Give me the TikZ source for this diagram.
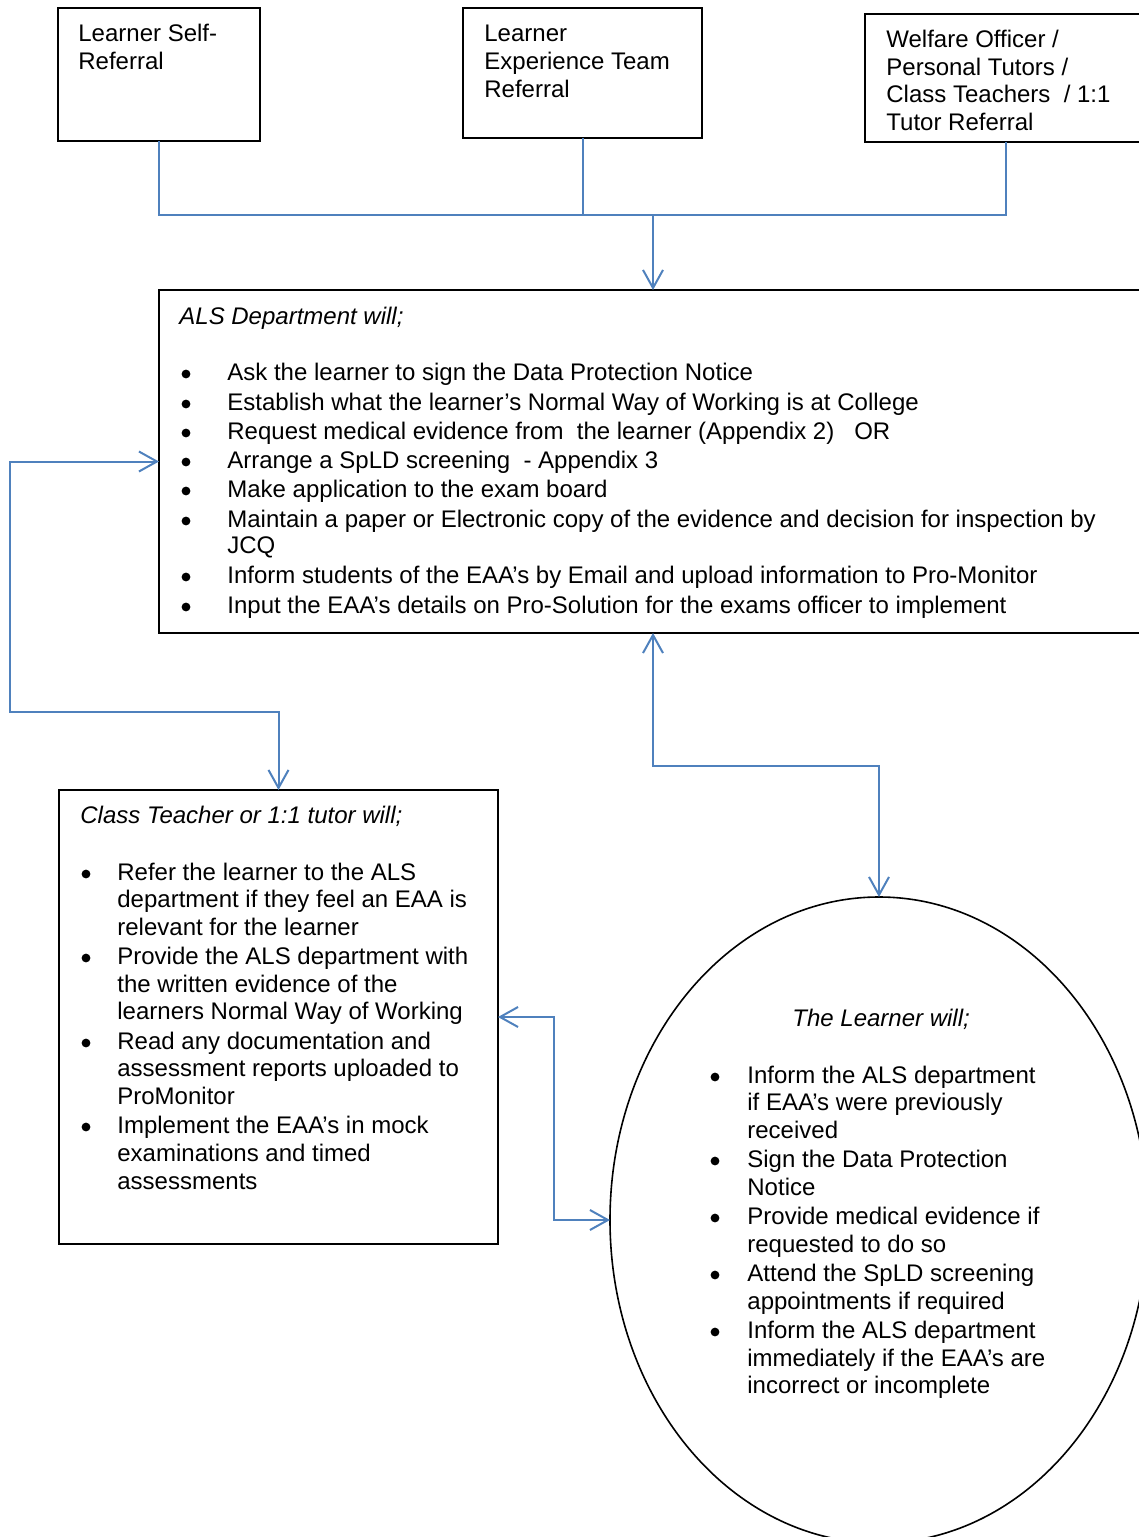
\documentclass[tikz,border=0pt]{standalone}
\usepackage{fontspec}
\setmainfont{Liberation Sans}
\usetikzlibrary{arrows.meta,shapes.geometric}
\definecolor{conn}{RGB}{79,129,189}
\begin{document}
\begin{tikzpicture}[x=0.5pt,y=-0.5pt,
  box/.style={draw=black,line width=1pt,inner sep=0pt,outer sep=0pt,rectangle},
  txt/.style={anchor=base west,inner sep=0pt,yshift=0.5pt,font=\fontsize{12}{14}\selectfont},
  hdr/.style={anchor=base west,inner sep=0pt,yshift=0.5pt,font=\fontsize{12}{14}\selectfont\itshape},
  bul/.style={circle,fill=black,inner sep=0pt,yshift=0.5pt,minimum size=4.4pt},
  link/.style={draw=conn,line width=1pt},
  >={Straight Barb[length=9pt,width=10pt]}]
\useasboundingbox (0,0) rectangle (1139,1537);
\clip (0,0) rectangle (1139,1537);

% boxes
\node[box,minimum width=101pt,minimum height=66.5pt] (b1) at (159,74.5) {};
\node[box,minimum width=119.5pt,minimum height=65pt] (b2) at (582.5,73) {};
\node[box,minimum width=141pt,minimum height=64pt] (b3) at (1006,78) {};
\node[box,minimum width=494pt,minimum height=171.5pt] (als) at (653,461.5) {};
\node[box,minimum width=219.5pt,minimum height=227pt] (ct) at (278.5,1017) {};
\node[draw=black,ellipse,line width=0.8pt,minimum width=269pt,minimum height=323pt,inner sep=0pt,outer sep=0pt] (lr) at (879,1220) {};

% small box texts
\node[txt] (t11) at (78,42) {Learner Self-};
\node[txt] (t12) at (78,70) {Referral};
\node[txt] (t21) at (484,42) {Learner};
\node[txt] (t22) at (484,70) {Experience Team};
\node[txt] (t23) at (484,98) {Referral};
\node[txt] (t31) at (886,48) {Welfare Officer /};
\node[txt] (t32) at (886,76) {Personal Tutors /};
\node[txt] (t33) at (886,103) {Class Teachers\ \ / 1:1};
\node[txt] (t34) at (886,131) {Tutor Referral};

% ALS text
\node[hdr] (alsh) at (179,325) {ALS Department will;};
\foreach \yy/\tt [count=\i] in {
  381/{Ask the learner to sign the Data Protection Notice},
  411/{Establish what the learner’s Normal Way of Working is at College},
  440/{Request medical evidence from\ \ the learner (Appendix 2)\ \ \ OR},
  469/{Arrange a SpLD screening\ \ - Appendix 3},
  498/{Make application to the exam board},
  528/{Maintain a paper or Electronic copy of the evidence and decision for inspection by},
  554/{JCQ},
  584/{Inform students of the EAA’s by Email and upload information to Pro-Monitor},
  614/{Input the EAA’s details on Pro-Solution for the exams officer to implement}}
  \node[txt] (als\i) at (227,\yy) {\tt};
\foreach \yy [count=\i] in {381,411,440,469,498,528,584,614}
  \node[bul] (alsb\i) at (186,\yy-6) {};

% Class teacher text
\node[hdr] (cth) at (80,824) {Class Teacher or 1:1 tutor will;};
\foreach \yy/\tt [count=\i] in {
  881/{Refer the learner to the ALS},
  908/{department if they feel an EAA is},
  936/{relevant for the learner},
  965/{Provide the ALS department with},
  993/{the written evidence of the},
  1020/{learners Normal Way of Working},
  1050/{Read any documentation and},
  1077/{assessment reports uploaded to},
  1105/{ProMonitor},
  1134/{Implement the EAA’s in mock},
  1162/{examinations and timed},
  1190/{assessments}}
  \node[txt] (ct\i) at (117,\yy) {\tt};
\foreach \yy [count=\i] in {881,965,1050,1134}
  \node[bul] (ctb\i) at (86,\yy-6) {};

% Learner text
\node[hdr] (lrh) at (792,1027) {The Learner will;};
\foreach \yy/\tt [count=\i] in {
  1084/{Inform the ALS department},
  1111/{if EAA’s were previously},
  1139/{received},
  1168/{Sign the Data Protection},
  1196/{Notice},
  1225/{Provide medical evidence if},
  1253/{requested to do so},
  1282/{Attend the SpLD screening},
  1310/{appointments if required},
  1339/{Inform the ALS department},
  1367/{immediately if the EAA’s are},
  1394/{incorrect or incomplete}}
  \node[txt] (lr\i) at (747,\yy) {\tt};
\foreach \yy [count=\i] in {1084,1168,1225,1282,1339}
  \node[bul] (lrb\i) at (715,\yy-6) {};

% connectors
\coordinate (j) at (653,215);
\draw[link] (b1.south) |- (j);
\draw[link] (b2.south) |- (j);
\draw[link] (b3.south) |- (j);
\draw[link,->] (j) -- (als.north);
\coordinate (lc) at (10,712);
\draw[link,<->] (als.west) -| (lc) -| (ct.north);
\coordinate (mc) at (760,766);
\draw[link,<->] (als.south) |- (mc) -| (lr.north);
\coordinate (rc) at (554,1100);
\draw[link,<->] (ct.east) -| (rc) |- (lr.west);
\end{tikzpicture}
\end{document}
